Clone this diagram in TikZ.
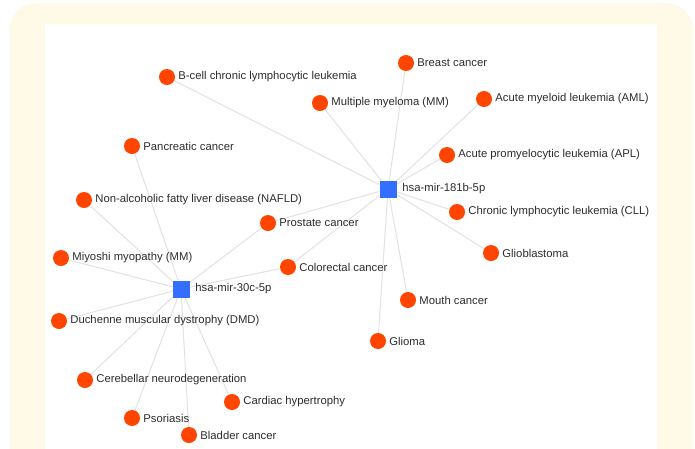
\documentclass[tikz,border=0pt]{standalone}
\usepackage{fontspec}
\setmainfont{Liberation Sans}
\definecolor{cream}{RGB}{255,250,232}
\definecolor{disred}{RGB}{255,69,0}
\definecolor{mirblue}{RGB}{51,110,255}
\definecolor{linkgray}{RGB}{226,226,226}
\definecolor{labelgray}{RGB}{45,45,45}
\pgfdeclarelayer{panel}
\pgfdeclarelayer{links}
\pgfsetlayers{panel,links,main}

\begin{document}
\begin{tikzpicture}[x=1pt,y=-1pt,
  lbl/.style={font=\fontsize{11.3}{13}\selectfont,text=labelgray,inner sep=0pt},
  disease/.style={circle,fill=disred,inner sep=0pt,minimum size=16pt,
    label={[lbl,label distance=3pt]right:#1}},
  mirna/.style={rectangle,fill=mirblue,inner sep=0pt,minimum size=17pt,
    label={[lbl,label distance=5.5pt]right:#1}},
  every edge/.style={draw=linkgray,line width=1pt}]

  \useasboundingbox (0,0) rectangle (695,448);
  \begin{pgfonlayer}{panel}
    \clip (0,0) rectangle (695,448);
    \fill[cream] (10,3) [rounded corners=26pt] -- (693,3) -- (693,480) -- (10,480) -- cycle;
    \fill[white] (45,24) rectangle (657,480);
  \end{pgfonlayer}

  % microRNAs
  \node[mirna=hsa-mir-181b-5p] (m181) at (388,189) {};
  \node[mirna=hsa-mir-30c-5p] (m30) at (181,289) {};

  % diseases
  \node[disease=B-cell chronic lymphocytic leukemia] (bcll) at (167,77) {};
  \node[disease=Multiple myeloma (MM)] (mm) at (320,103) {};
  \node[disease=Breast cancer] (breast) at (406,63) {};
  \node[disease=Acute myeloid leukemia (AML)] (aml) at (484,99) {};
  \node[disease=Acute promyelocytic leukemia (APL)] (apl) at (447,155) {};
  \node[disease=Chronic lymphocytic leukemia (CLL)] (cll) at (457,212) {};
  \node[disease=Glioblastoma] (gbm) at (491,253) {};
  \node[disease=Mouth cancer] (mouth) at (408,300) {};
  \node[disease=Glioma] (glioma) at (378,341) {};
  \node[disease=Prostate cancer] (prostate) at (268,223) {};
  \node[disease=Colorectal cancer] (crc) at (288,267) {};
  \node[disease=Pancreatic cancer] (panc) at (132,146) {};
  \node[disease=Non-alcoholic fatty liver disease (NAFLD)] (nafld) at (84,200) {};
  \node[disease=Miyoshi myopathy (MM)] (miyoshi) at (61,258) {};
  \node[disease=Duchenne muscular dystrophy (DMD)] (dmd) at (59,321) {};
  \node[disease=Cerebellar neurodegeneration] (cereb) at (85,380) {};
  \node[disease=Cardiac hypertrophy] (cardiac) at (232,402) {};
  \node[disease=Psoriasis] (psor) at (132,418) {};
  \node[disease=Bladder cancer] (bladder) at (189,435) {};

  \begin{pgfonlayer}{links}
  \path
    (m181) edge (bcll)
    (m181) edge (mm)
    (m181) edge (breast)
    (m181) edge (aml)
    (m181) edge (apl)
    (m181) edge (cll)
    (m181) edge (gbm)
    (m181) edge (mouth)
    (m181) edge (glioma)
    (m181) edge (prostate)
    (m181) edge (crc)
    (m30) edge (prostate)
    (m30) edge (crc)
    (m30) edge (panc)
    (m30) edge (nafld)
    (m30) edge (miyoshi)
    (m30) edge (dmd)
    (m30) edge (cereb)
    (m30) edge (cardiac)
    (m30) edge (psor)
    (m30) edge (bladder);
  \end{pgfonlayer}
\end{tikzpicture}
\end{document}
